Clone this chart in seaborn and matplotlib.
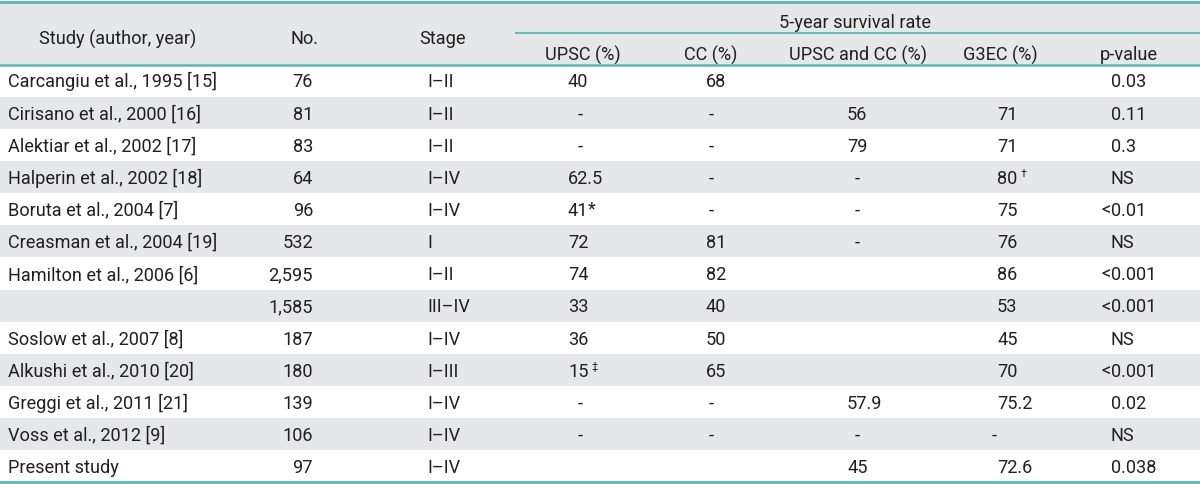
import matplotlib
matplotlib.use("Agg")
import matplotlib.pyplot as plt
import seaborn as sns

# ---------------- data ----------------
studies = ["Carcangiu et al., 1995 [15]", "Cirisano et al., 2000 [16]", "Alektiar et al., 2002 [17]",
           "Halperin et al., 2002 [18]", "Boruta et al., 2004 [7]", "Creasman et al., 2004 [19]",
           "Hamilton et al., 2006 [6]", "", "Soslow et al., 2007 [8]", "Alkushi et al., 2010 [20]",
           "Greggi et al., 2011 [21]", "Voss et al., 2012 [9]", "Present study"]
n_patients = ["76", "81", "83", "64", "96", "532", "2,595", "1,585", "187", "180", "139", "106", "97"]
stages = ["I–II", "I–II", "I–II", "I–IV", "I–IV", "I", "I–II", "III–IV", "I–IV", "I–III", "I–IV", "I–IV", "I–IV"]
upsc = ["40", "-", "-", "62.5", "41*", "72", "74", "33", "36", "15‡", "-", "-", ""]
cc = ["68", "-", "-", "-", "-", "81", "82", "40", "50", "65", "-", "-", ""]
upsc_cc = ["", "56", "79", "-", "-", "-", "", "", "", "", "57.9", "-", "45"]
g3ec = ["", "71", "71", "80†", "75", "76", "86", "53", "45", "70", "75.2", "-", "72.6"]
p_values = ["0.03", "0.11", "0.3", "NS", "<0.01", "NS", "<0.001", "<0.001", "NS", "<0.001", "0.02", "NS", "0.038"]

main_headers = ["Study (author, year)", "No.", "Stage"]
group_header = "5-year survival rate"
sub_headers = ["UPSC (%)", "CC (%)", "UPSC and CC (%)", "G3EC (%)", "p-value"]

# ---------------- style ----------------
sns.set_theme(style="white")
plt.rcParams["font.family"] = ["Roboto", "DejaVu Sans"]

TEAL = "#55bab2"
GRAY = "#e6e7e8"
TXT = "#231f20"
FS = 13.1

W, H = 1200, 484
fig = plt.figure(figsize=(W / 100, H / 100), dpi=100)
ax = fig.add_axes([0, 0, 1, 1])
ax.set_xlim(0, W)
ax.set_ylim(H, 0)
ax.axis("off")

header_top, header_bot = 1.5, 64.5
row_h = 32.15
n_rows = len(studies)

# backgrounds
ax.axhspan(header_top, header_bot, color=GRAY, lw=0, zorder=0)
for i in range(n_rows):
    if i % 2 == 1:
        ax.axhspan(header_bot + i * row_h, header_bot + (i + 1) * row_h, color=GRAY, lw=0, zorder=0)

# rules
ax.axhline(header_top, color=TEAL, lw=2.0, zorder=2)
ax.axhline(header_bot, color=TEAL, lw=1.8, zorder=2)
ax.plot([515, W], [33, 33], color=TEAL, lw=1.3, zorder=2, solid_capstyle="butt")
ax.axhline(header_bot + n_rows * row_h - 0.5, color=TEAL, lw=2.0, zorder=2)

# headers
for txt, x in zip(main_headers, [118, 305, 442]):
    ax.text(x, 44.5, txt, ha="center", va="baseline", fontsize=FS, color=TXT)
ax.text(855, 27.5, group_header, ha="center", va="baseline", fontsize=FS, color=TXT)
for txt, x in zip(sub_headers, [583, 711, 858, 1000, 1129]):
    ax.text(x, 60.5, txt, ha="center", va="baseline", fontsize=FS, color=TXT)

MARKS = "*†‡"
fig.canvas.draw()
renderer = fig.canvas.get_renderer()


def put_value(x_left, x_dash, y, s):
    if s == "":
        return
    if s == "-":
        ax.text(x_dash, y, "-", ha="center", va="baseline", fontsize=FS, color=TXT)
        return
    mark = ""
    if s[-1] in MARKS:
        s, mark = s[:-1], s[-1]
    t = ax.text(x_left, y, s, ha="left", va="baseline", fontsize=FS, color=TXT)
    if mark:
        bb = t.get_window_extent(renderer=renderer)
        x_end = ax.transData.inverted().transform((bb.x1, bb.y0))[0]
        if mark == "*":
            ax.text(x_end - 0.5, y - 2, mark, ha="left", va="baseline", fontsize=FS, color=TXT)
        else:
            ax.text(x_end + 3, y - 7, mark, ha="left", va="baseline", fontsize=FS * 0.6, color=TXT)


for i in range(n_rows):
    yc = header_bot + (i + 0.5) * row_h
    yb = yc + 6.8
    ax.text(8, yb, studies[i], ha="left", va="baseline", fontsize=FS, color=TXT)
    ax.text(313, yb, n_patients[i], ha="right", va="baseline", fontsize=FS, color=TXT)
    ax.text(427, yb, stages[i], ha="left", va="baseline", fontsize=FS, color=TXT)
    put_value(568, 580, yb, upsc[i])
    put_value(706, 711, yb, cc[i])
    put_value(847, 857, yb, upsc_cc[i])
    put_value(997, 994, yb, g3ec[i])
    p = p_values[i]
    if p.startswith("<"):
        ax.text(1110.5, yb, "<", ha="right", va="baseline", fontsize=FS, color=TXT)
        p = p[1:]
    ax.text(1111, yb, p, ha="left", va="baseline", fontsize=FS, color=TXT)

fig.savefig("out.png", dpi=100, facecolor="white")
